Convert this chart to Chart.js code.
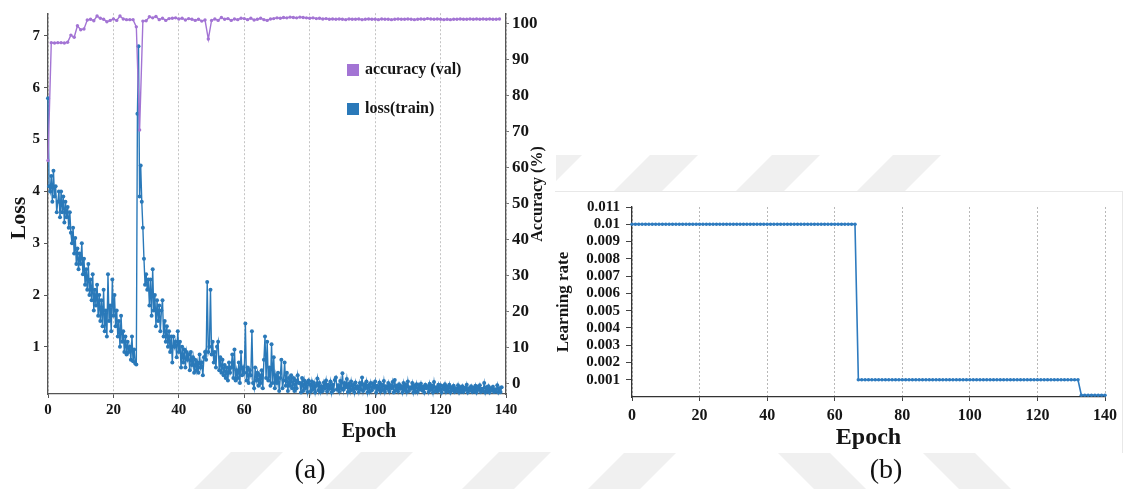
<!DOCTYPE html>
<html>
<head>
<meta charset="utf-8">
<title>Training curves and learning rate schedule</title>
<script src="https://cdn.jsdelivr.net/npm/chart.js@4.4.1/dist/chart.umd.min.js"></script>
<style>
  html, body { margin: 0; padding: 0; background: #fff; }
  #page { position: relative; width: 1134px; height: 489px; overflow: hidden; background: #fff;
          font-family: "Liberation Serif", "Times New Roman", serif; }
  #wm { position: absolute; left: 0; top: 0; }
  #boxA { position: absolute; left: 0; top: 0; width: 556px; height: 446px; background: #fff; }
  #boxB { position: absolute; left: 555px; top: 191px; width: 567px; height: 261px; background: #fff;
          border-top: 1px solid #e8e8e8; border-right: 1px solid #e8e8e8; }
  canvas.chart { position: absolute; left: 0; top: 0; }
  .cap { position: absolute; top: 452px; width: 60px; text-align: center; font-size: 28px; line-height: 34px; color: #111; }
</style>
</head>
<body>
<div id="page">
  <canvas id="wm" width="1134" height="489"></canvas>
  <div id="boxA"><canvas id="chartA" class="chart" width="556" height="446"></canvas></div>
  <div id="boxB"><canvas id="chartB" class="chart" width="567" height="260"></canvas></div>
  <div class="cap" style="left:280px">(a)</div>
  <div class="cap" style="left:856px">(b)</div>
</div>
<script>
// ---- data -------------------------------------------------------------
const epochTicks = [0, 20, 40, 60, 80, 100, 120, 140];
const lossTicks = [1, 2, 3, 4, 5, 6, 7];
const accuracyTicks = [0, 10, 20, 30, 40, 50, 60, 70, 80, 90, 100];
const lrTicks = [0.001, 0.002, 0.003, 0.004, 0.005, 0.006, 0.007, 0.008, 0.009, 0.01, 0.011];

// training loss, logged three times per epoch
const lossPerEpoch = 3;
const lossTrain = [
  5.8, 4.1, 4.0,   4.3, 3.8, 4.4,   3.9, 4.1, 3.6,   3.8, 4.0, 3.5,   4.0, 3.6, 3.9,
  3.4, 3.8, 3.5,   3.7, 3.3, 3.6,   3.2, 3.0, 3.3,   2.8, 3.1, 2.6,   2.9, 2.5, 2.8,
  2.6, 3.0, 2.4,   2.7, 2.2, 2.5,   2.1, 2.6, 2.0,   2.3, 1.9, 2.4,   1.7, 2.1, 1.8,
  2.2, 1.6, 2.0,   1.5, 1.9, 1.4,   2.1, 1.3, 1.7,   1.2, 2.4, 1.5,   1.8, 1.3, 2.3,
  1.6, 2.0, 1.4,   1.7, 1.2, 1.5,   1.0, 1.6, 1.1,   1.3, 0.9, 1.2,   0.85, 1.1, 0.9,
  1.0, 0.75, 1.2,  0.72, 0.95, 0.68, 0.66, 5.5, 6.8, 3.9, 4.5, 3.8,   3.3, 2.7, 2.2,
  2.4, 2.1, 2.3,   1.8, 2.3, 1.6,   2.5, 1.7, 2.0,   1.4, 1.9, 1.5,   1.8, 1.3, 1.7,
  1.9, 1.2, 1.5,   1.1, 1.4, 1.0,   1.3, 0.9, 1.2,   0.7, 1.2, 1.0,   1.1, 0.8, 1.3,
  0.9, 1.1, 0.6,   1.0, 0.7, 0.95,  0.6, 0.9, 0.75,  0.85, 0.55, 0.9, 0.65, 0.8, 0.5,
  0.75, 0.55, 0.7, 0.5, 0.85, 0.6,  0.7, 0.45, 0.8,  0.9, 0.75, 2.25, 0.9, 1.0, 2.1,
  0.85, 1.1, 0.7,  0.9, 0.6, 1.0,   1.1, 0.55, 0.8,  0.5, 0.75, 0.45, 0.65, 0.4, 0.6,
  0.35, 0.7, 0.5,  0.6, 0.85, 0.4,  0.95, 0.35, 0.55, 0.4, 0.7, 0.3,  0.9, 0.45, 0.6,
  0.5, 1.45, 0.35, 0.6, 0.3, 0.55,  0.45, 1.3, 0.3,  0.2, 0.6, 0.35,  0.5, 0.25, 0.45,
  0.3, 0.55, 0.2,  0.75, 1.2, 0.4,  1.1, 0.35, 0.6,  0.25, 1.05, 0.3, 0.8, 0.2, 0.45,
  0.3, 0.5, 0.15,  0.4, 0.75, 0.2,  0.35, 0.7, 0.25, 0.5, 0.15, 0.4,  0.25, 0.45, 0.2,
  0.4, 0.15, 0.35, 0.2, 0.45, 0.3,  0.3, 0.12, 0.4,  0.15, 0.35, 0.2, 0.3, 0.13, 0.35,
  0.28, 0.14, 0.33, 0.18, 0.3, 0.12, 0.25, 0.39, 0.16, 0.3, 0.13, 0.24, 0.15, 0.31, 0.2,
  0.35, 0.14, 0.27, 0.19, 0.33, 0.12, 0.27, 0.16, 0.36, 0.41, 0.18, 0.26, 0.14, 0.34, 0.2,
  0.49, 0.17, 0.3, 0.22, 0.38, 0.13, 0.29, 0.15, 0.33, 0.17, 0.27, 0.12, 0.31, 0.19, 0.24,
  0.13, 0.3, 0.18, 0.41, 0.15, 0.28, 0.2, 0.33, 0.12, 0.26, 0.14, 0.3,  0.16, 0.29, 0.21,
  0.33, 0.12, 0.25, 0.18, 0.31, 0.14, 0.27, 0.17, 0.34, 0.13, 0.24, 0.19, 0.3, 0.14, 0.26,
  0.2, 0.32, 0.12, 0.36, 0.16, 0.25, 0.14, 0.28, 0.19, 0.24, 0.12, 0.3,  0.17, 0.27, 0.13,
  0.33, 0.15, 0.22, 0.19, 0.3, 0.12, 0.25, 0.14, 0.28, 0.13, 0.26, 0.18, 0.29, 0.16, 0.23,
  0.12, 0.27, 0.2, 0.24, 0.13, 0.29, 0.17, 0.25, 0.12, 0.32, 0.15, 0.22, 0.14, 0.27, 0.17,
  0.26, 0.12, 0.24, 0.18, 0.28, 0.13, 0.23, 0.15, 0.27, 0.12, 0.22, 0.16, 0.25, 0.13, 0.2,
  0.15, 0.26, 0.12, 0.22, 0.14, 0.24, 0.13, 0.21, 0.17, 0.27, 0.12, 0.2,  0.16, 0.24, 0.13,
  0.21, 0.14, 0.25, 0.12, 0.23, 0.17, 0.26, 0.13, 0.19, 0.15, 0.3, 0.12,  0.22, 0.14, 0.24,
  0.12, 0.2, 0.16, 0.23, 0.13, 0.18, 0.14, 0.26, 0.12, 0.2, 0.13, 0.22
];

// validation accuracy (%), one value per epoch
const accuracyVal = [
  62.0, 94.8, 94.7, 94.8, 94.8, 94.7, 94.9, 96.9, 96.3, 99.5,
  98.4, 98.6, 101.1, 101.3, 100.9, 102.2, 101.6, 101.3, 100.6, 101.0,
  101.4, 101.0, 102.2, 101.4, 101.2, 101.2, 101.2, 99.2, 70.5, 100.8,
  100.9, 102.0, 101.7, 102.1, 101.2, 101.6, 101.0, 101.5, 101.6, 101.7,
  101.4, 101.6, 101.1, 101.5, 101.3, 101.0, 101.3, 100.8, 101.1, 95.8,
  101.0, 101.4, 101.0, 101.8, 101.3, 101.5, 101.0, 101.4, 101.2, 101.6,
  101.5, 101.2, 101.6, 101.1, 101.3, 101.6, 101.2, 101.0, 101.4, 101.5,
  101.7, 101.6, 101.8, 101.7, 101.9, 101.8, 101.7, 101.9, 101.8, 101.7,
  101.6, 101.7, 101.5, 101.6, 101.4, 101.5, 101.3, 101.4, 101.3, 101.4,
  101.3, 101.2, 101.4, 101.3, 101.3, 101.4, 101.2, 101.3, 101.4, 101.3,
  101.3, 101.2, 101.4, 101.3, 101.3, 101.2, 101.3, 101.4, 101.3, 101.3,
  101.4, 101.3, 101.2, 101.3, 101.4, 101.3, 101.5, 101.4, 101.3, 101.4,
  101.3, 101.2, 101.3, 101.2, 101.3, 101.3, 101.4, 101.3, 101.3, 101.4,
  101.3, 101.4, 101.3, 101.4, 101.3, 101.4, 101.3, 101.3, 101.4
];

// learning rate per epoch
const lrRates = [
  0.01, 0.01, 0.01, 0.01, 0.01, 0.01, 0.01, 0.01, 0.01, 0.01,
  0.01, 0.01, 0.01, 0.01, 0.01, 0.01, 0.01, 0.01, 0.01, 0.01,
  0.01, 0.01, 0.01, 0.01, 0.01, 0.01, 0.01, 0.01, 0.01, 0.01,
  0.01, 0.01, 0.01, 0.01, 0.01, 0.01, 0.01, 0.01, 0.01, 0.01,
  0.01, 0.01, 0.01, 0.01, 0.01, 0.01, 0.01, 0.01, 0.01, 0.01,
  0.01, 0.01, 0.01, 0.01, 0.01, 0.01, 0.01, 0.01, 0.01, 0.01,
  0.01, 0.01, 0.01, 0.01, 0.01, 0.01, 0.01,
  0.001, 0.001, 0.001, 0.001, 0.001, 0.001, 0.001, 0.001, 0.001, 0.001,
  0.001, 0.001, 0.001, 0.001, 0.001, 0.001, 0.001, 0.001, 0.001, 0.001,
  0.001, 0.001, 0.001, 0.001, 0.001, 0.001, 0.001, 0.001, 0.001, 0.001,
  0.001, 0.001, 0.001, 0.001, 0.001, 0.001, 0.001, 0.001, 0.001, 0.001,
  0.001, 0.001, 0.001, 0.001, 0.001, 0.001, 0.001, 0.001, 0.001, 0.001,
  0.001, 0.001, 0.001, 0.001, 0.001, 0.001, 0.001, 0.001, 0.001, 0.001,
  0.001, 0.001, 0.001, 0.001, 0.001, 0.001,
  0.0001, 0.0001, 0.0001, 0.0001, 0.0001, 0.0001, 0.0001, 0.0001
];

// ---- styling ----------------------------------------------------------
const SERIF = '"Liberation Serif", "Times New Roman", serif';
const LOSS_COLOR = '#2a79b9';
const ACC_COLOR = '#a374d4';
const LR_COLOR = '#2e7bbf';
const TEXT = '#151515';

// faint diagonal band pattern behind the two panels
(function drawBackdrop() {
  const ctx = document.getElementById('wm').getContext('2d');
  ctx.fillStyle = '#f0f0f0';
  function band(xTop, yTop, yBot, width, dir) {
    const d = (yBot - yTop) * dir;
    ctx.beginPath();
    ctx.moveTo(xTop, yTop);
    ctx.lineTo(xTop + width, yTop);
    ctx.lineTo(xTop + width + d, yBot);
    ctx.lineTo(xTop + d, yBot);
    ctx.closePath();
    ctx.fill();
  }
  [534, 650, 772, 893].forEach(x => band(x, 155, 192, 48, -1));
  [231, 361, 499, 625].forEach(x => band(x, 452, 489, 52, -1));
  [777, 922].forEach(x => band(x, 452, 489, 52, 1));
})();

function fixedTicks(values) {
  return scale => { scale.ticks = values.map(v => ({ value: v })); };
}

// free-standing captions and the in-plot legend of panel (a)
const panelATexts = [
  { text: 'Loss', x: 19, y: 218, rotate: -Math.PI / 2, font: 'bold 22px ' + SERIF },
  { text: 'Epoch', x: 369, y: 432, rotate: 0, font: 'bold 20px ' + SERIF },
  { text: 'Accuracy (%)', x: 538, y: 194, rotate: -Math.PI / 2, font: 'bold 16px ' + SERIF }
];
const panelALegend = [
  { label: 'accuracy (val)', color: ACC_COLOR, x: 347, y: 70 },
  { label: 'loss(train)', color: LOSS_COLOR, x: 347, y: 109 }
];

const captionPlugin = {
  id: 'captions',
  afterDraw(chart, args, opts) {
    const ctx = chart.ctx;
    ctx.save();
    ctx.fillStyle = TEXT;
    ctx.textAlign = 'center';
    ctx.textBaseline = 'middle';
    (opts.items || []).forEach(t => {
      ctx.save();
      ctx.translate(t.x, t.y);
      ctx.rotate(t.rotate);
      ctx.font = t.font;
      ctx.fillText(t.text, 0, 0);
      ctx.restore();
    });
    ctx.textAlign = 'left';
    ctx.font = 'bold 16px ' + SERIF;
    (opts.legend || []).forEach(l => {
      ctx.fillStyle = l.color;
      ctx.fillRect(l.x, l.y - 6, 12, 12);
      ctx.fillStyle = TEXT;
      ctx.fillText(l.label, l.x + 18, l.y);
    });
    ctx.restore();
  }
};

// ---- panel (a): loss and accuracy -------------------------------------
new Chart(document.getElementById('chartA'), {
  type: 'line',
  data: {
    datasets: [
      {
        label: 'accuracy (val)',
        data: accuracyVal.map((v, i) => ({ x: i, y: v })),
        yAxisID: 'yAcc',
        borderColor: ACC_COLOR,
        backgroundColor: ACC_COLOR,
        borderWidth: 1.4,
        pointRadius: 1.7,
        pointBorderWidth: 0,
        pointBackgroundColor: ACC_COLOR,
        tension: 0,
        clip: 4
      },
      {
        label: 'loss(train)',
        data: lossTrain.map((v, i) => ({ x: i / lossPerEpoch, y: v })),
        yAxisID: 'yLoss',
        borderColor: LOSS_COLOR,
        backgroundColor: LOSS_COLOR,
        borderWidth: 1.4,
        pointRadius: 2,
        pointBorderWidth: 0,
        pointBackgroundColor: LOSS_COLOR,
        tension: 0,
        clip: 4
      }
    ]
  },
  options: {
    responsive: false,
    animation: false,
    devicePixelRatio: 1,
    layout: { padding: { top: 7, left: 0, right: 0, bottom: 0 } },
    plugins: {
      legend: { display: false },
      tooltip: { enabled: false },
      captions: { items: panelATexts, legend: panelALegend }
    },
    scales: {
      x: {
        type: 'linear', position: 'bottom', min: 0, max: 140,
        afterBuildTicks: fixedTicks(epochTicks),
        afterFit: s => { s.height = 52; },
        ticks: { font: { family: SERIF, size: 15, weight: 'bold' }, color: TEXT, padding: 3, maxRotation: 0, autoSkip: false },
        grid: { color: '#c4c4c4', lineWidth: 1, drawTicks: true, tickLength: 4, tickColor: '#555', tickWidth: 1 },
        border: { color: '#555', width: 1.3, dash: [2, 2] }
      },
      yLoss: {
        type: 'linear', position: 'left', min: 0.09, max: 7.44,
        afterBuildTicks: fixedTicks(lossTicks),
        afterFit: s => { s.width = 48; },
        ticks: { font: { family: SERIF, size: 15, weight: 'bold' }, color: TEXT, padding: 4, autoSkip: false },
        grid: { drawOnChartArea: false, drawTicks: true, tickLength: 4, tickColor: '#555' },
        border: { color: '#555', width: 1.3 }
      },
      yAcc: {
        type: 'linear', position: 'right', min: -3, max: 103,
        afterBuildTicks: fixedTicks(accuracyTicks),
        afterFit: s => { s.width = 50; },
        ticks: { font: { family: SERIF, size: 17, weight: 'bold' }, color: TEXT, padding: 3, autoSkip: false },
        grid: { drawOnChartArea: false, drawTicks: true, tickLength: 3, tickColor: '#777' },
        border: { color: '#555', width: 1.3 }
      }
    }
  },
  plugins: [captionPlugin]
});

// ---- panel (b): learning rate schedule ---------------------------------
new Chart(document.getElementById('chartB'), {
  type: 'line',
  data: {
    datasets: [{
      label: 'Learning rate',
      data: lrRates.map((v, i) => ({ x: i, y: v })),
      borderColor: LR_COLOR,
      backgroundColor: LR_COLOR,
      borderWidth: 1.6,
      pointRadius: 1.8,
      pointBorderWidth: 0,
      pointBackgroundColor: LR_COLOR,
      tension: 0,
      clip: 6
    }]
  },
  options: {
    responsive: false,
    animation: false,
    devicePixelRatio: 1,
    layout: { padding: { top: 2, left: 0, right: 6, bottom: 0 } },
    plugins: { legend: { display: false }, tooltip: { enabled: false } },
    scales: {
      x: {
        type: 'linear', position: 'bottom', min: 0, max: 140,
        afterBuildTicks: fixedTicks(epochTicks),
        afterFit: s => { s.height = 55; },
        ticks: { font: { family: SERIF, size: 16, weight: 'bold' }, color: TEXT, padding: 5, maxRotation: 0, autoSkip: false },
        grid: { color: '#b8b8b8', lineWidth: 1, drawTicks: true, tickLength: 4, tickColor: '#444' },
        border: { color: '#333', width: 1.3, dash: [2, 2] },
        title: { display: true, text: 'Epoch', color: TEXT, padding: 0,
                 font: { family: SERIF, size: 24, weight: 'bold', lineHeight: 1.2 } }
      },
      y: {
        type: 'linear', position: 'left', min: 0, max: 0.011,
        afterBuildTicks: fixedTicks(lrTicks),
        afterFit: s => { s.width = 77; },
        ticks: { font: { family: SERIF, size: 15, weight: 'bold' }, color: TEXT, padding: 6, autoSkip: false,
                 callback: v => String(parseFloat(v.toFixed(4))) },
        grid: { drawOnChartArea: false, drawTicks: true, tickLength: 6, tickColor: '#444' },
        border: { color: '#333', width: 1.3 },
        title: { display: true, text: 'Learning rate', color: TEXT, padding: 0,
                 font: { family: SERIF, size: 17, weight: 'bold', lineHeight: 1 } }
      }
    }
  }
});
</script>
</body>
</html>
